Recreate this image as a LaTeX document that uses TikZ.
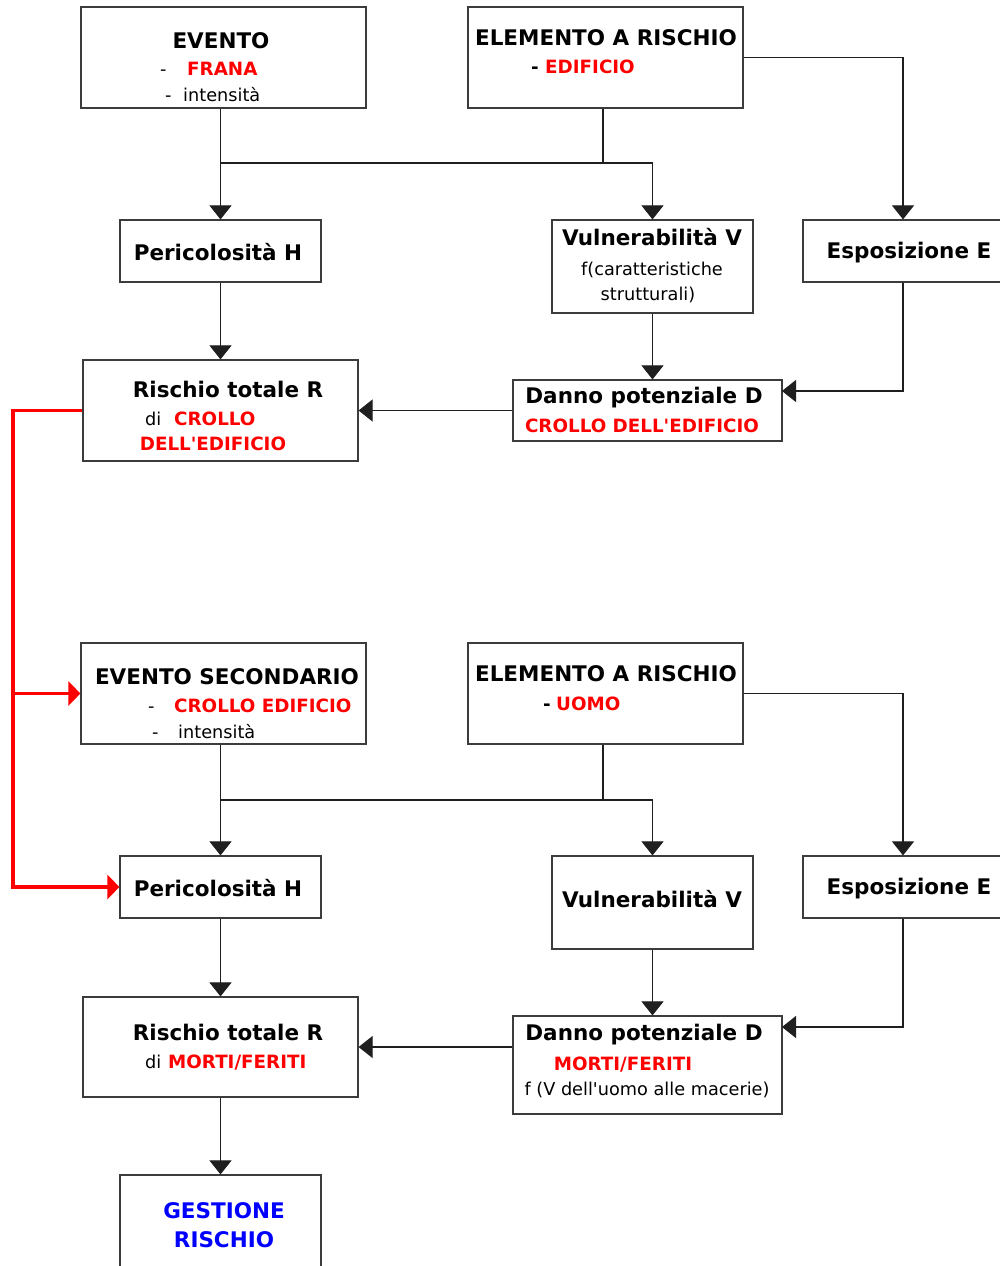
\documentclass[tikz,border=0pt]{standalone}
\usepackage{fontspec}
\setmainfont{DejaVu Sans}
\usetikzlibrary{arrows.meta}
\definecolor{hot}{RGB}{255,0,0}
\definecolor{mgmt}{RGB}{0,0,255}
\definecolor{edge}{RGB}{60,60,60}
\tikzset{
  box/.style={draw=edge, line width=1.2pt, inner sep=0pt, fill=white},
  title/.style={anchor=base, inner sep=0pt, font=\fontsize{21.5}{25}\selectfont\bfseries},
  sub/.style={anchor=base, inner sep=0pt, font=\fontsize{17.7}{21}\selectfont},
  subb/.style={anchor=base, inner sep=0pt, font=\fontsize{18.3}{21}\selectfont\bfseries, text=hot},
  plain/.style={draw=black!88, line width=1.1pt},
  link/.style={plain, -{Triangle[width=22pt,length=14pt]}},
  feed/.style={draw=hot, line width=3.5pt, -{Triangle[width=24pt,length=12pt]}},
}
\begin{document}
\begin{tikzpicture}[x=1pt,y=-1pt]
\fill[white] (0,0) rectangle (1000,1266);
\useasboundingbox (0,0) rectangle (1000,1266);

% ---------- first chain: landslide on the building ----------
\node[box, minimum width=285pt, minimum height=101pt] (ev1) at (223.5,57.5) {};
\node[box, minimum width=275pt, minimum height=101pt] (el1) at (605.5,57.5) {};
\node[box, minimum width=201pt, minimum height=62pt] (ph1) at (220.5,251) {};
\node[box, minimum width=201pt, minimum height=93pt] (vu1) at (652.5,266.5) {};
\node[box, minimum width=200pt, minimum height=62pt] (es1) at (903,251) {};
\node[box, minimum width=275pt, minimum height=101pt] (ri1) at (220.5,410.5) {};
\node[box, minimum width=269pt, minimum height=61pt] (da1) at (647.5,410.5) {};

\coordinate (j1) at (220.5,163);
\coordinate (j1e) at (603,163);
\coordinate (d1in) at (782,391);

\draw[link] (ev1.south -| ph1.north) -- (ph1.north);
\draw[link] (j1) -| (vu1.north);
\draw[plain] (el1.south -| j1e) -- (j1e);
\draw[link] (el1.east) -| (es1.north);
\draw[link] (ph1.south) -- (ri1.north);
\draw[link] (vu1.south) -- (vu1.south |- da1.north);
\draw[link] (es1.south) |- (d1in);
\draw[link] (da1.west) -- (da1.west -| ri1.east);

\node[title] (tev1) at (221,48) {EVENTO};
\node[sub, anchor=base west] (tev1a) at (160,75) {-};
\node[subb, anchor=base west] (tev1b) at (187,75) {FRANA};
\node[sub, anchor=base west] (tev1c) at (165,101) {-};
\node[sub, anchor=base west] (tev1d) at (183,101) {intensità};

\node[title] (tel1) at (606,45) {ELEMENTO A RISCHIO};
\node[subb, anchor=base west, text=black] (tel1a) at (531,73) {-};
\node[subb, anchor=base west] (tel1b) at (545,73) {EDIFICIO};

\node[title] (tph1) at (218,260) {Pericolosità H};
\node[title] (tvu1) at (652,245) {Vulnerabilità V};
\node[sub] (tvu1a) at (652,275) {f(caratteristiche};
\node[sub] (tvu1b) at (648,300) {strutturali)};
\node[title] (tes1) at (909,258) {Esposizione E};

\node[title] (tri1) at (228,397) {Rischio totale R};
\node[sub, anchor=base west] (tri1a) at (145,425) {di};
\node[subb, anchor=base west] (tri1b) at (174,425) {CROLLO};
\node[subb] (tri1c) at (213,450) {DELL\textquotesingle EDIFICIO};

\node[title] (tda1) at (644,403) {Danno potenziale D};
\node[subb] (tda1a) at (642,432) {CROLLO DELL\textquotesingle EDIFICIO};

% ---------- second chain: collapse on people ----------
\node[box, minimum width=285pt, minimum height=101pt] (ev2) at (223.5,693.5) {};
\node[box, minimum width=275pt, minimum height=101pt] (el2) at (605.5,693.5) {};
\node[box, minimum width=201pt, minimum height=62pt] (ph2) at (220.5,887) {};
\node[box, minimum width=201pt, minimum height=93pt] (vu2) at (652.5,902.5) {};
\node[box, minimum width=200pt, minimum height=62pt] (es2) at (903,887) {};
\node[box, minimum width=275pt, minimum height=100pt] (ri2) at (220.5,1047) {};
\node[box, minimum width=269pt, minimum height=98pt] (da2) at (647.5,1065) {};
\node[box, minimum width=201pt, minimum height=115pt] (ge) at (220.5,1232.5) {};

\coordinate (j2) at (220.5,800);
\coordinate (j2e) at (603,800);
\coordinate (d2in) at (782,1027);

\draw[link] (ev2.south -| ph2.north) -- (ph2.north);
\draw[link] (j2) -| (vu2.north);
\draw[plain] (el2.south -| j2e) -- (j2e);
\draw[link] (el2.east) -| (es2.north);
\draw[link] (ph2.south) -- (ri2.north);
\draw[link] (vu2.south) -- (vu2.south |- da2.north);
\draw[link] (es2.south) |- (d2in);
\draw[link] (ri2.east -| da2.west) -- (ri2.east);
\draw[link] (ri2.south) -- (ge.north);

% ---------- red feedback: total risk becomes the secondary event ----------
\coordinate (fa) at (13,410.5);
\coordinate (fb) at (13,887);
\draw[feed] (ri1.west) -- (fa) -- (fb) -- (ph2.west);
\draw[feed] (fa |- ev2.west) -- (ev2.west);

\node[title] (tev2) at (227,684) {EVENTO SECONDARIO};
\node[sub, anchor=base west] (tev2a) at (148,712) {-};
\node[subb, anchor=base west] (tev2b) at (174,712) {CROLLO EDIFICIO};
\node[sub, anchor=base west] (tev2c) at (152,738) {-};
\node[sub, anchor=base west] (tev2d) at (178,738) {intensità};

\node[title] (tel2) at (606,681) {ELEMENTO A RISCHIO};
\node[subb, anchor=base west, text=black] (tel2a) at (543,710) {-};
\node[subb, anchor=base west] (tel2b) at (556,710) {UOMO};

\node[title] (tph2) at (218,896) {Pericolosità H};
\node[title] (tvu2) at (652,907) {Vulnerabilità V};
\node[title] (tes2) at (909,894) {Esposizione E};

\node[title] (tri2) at (228,1040) {Rischio totale R};
\node[sub, anchor=base west] (tri2a) at (145,1068) {di};
\node[subb, anchor=base west] (tri2b) at (168,1068) {MORTI/FERITI};

\node[title] (tda2) at (644,1040) {Danno potenziale D};
\node[subb] (tda2a) at (623,1070) {MORTI/FERITI};
\node[sub] (tda2b) at (647,1095) {f (V dell\textquotesingle uomo alle macerie)};

\node[title, text=mgmt] (tge1) at (224,1218) {GESTIONE};
\node[title, text=mgmt] (tge2) at (224,1247) {RISCHIO};
\end{tikzpicture}
\end{document}
